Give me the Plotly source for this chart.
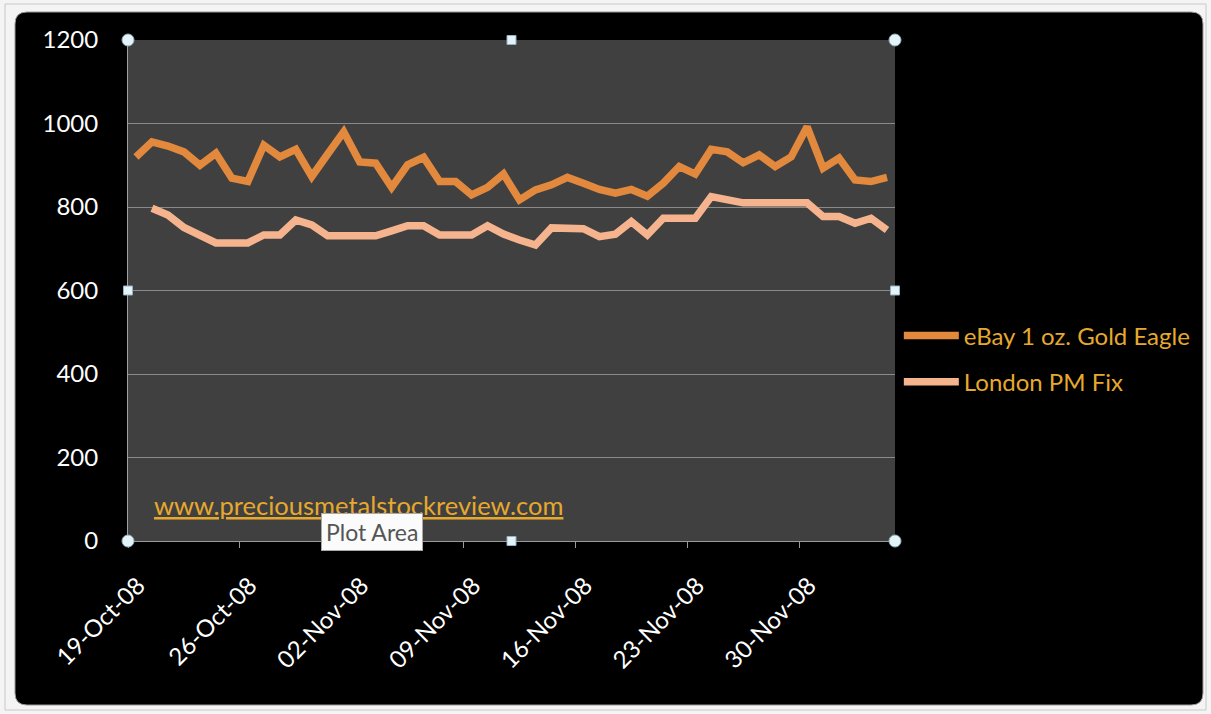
import plotly.graph_objects as go
import pandas as pd

# ---- data ----
ebay_dates = pd.date_range("2008-10-19", "2008-12-05", freq="D")
ebay_values = [920, 956, 946, 932, 900, 929, 869, 861, 948, 920, 938, 873, 927, 980, 908, 905,
               847, 901, 919, 861, 861, 829, 847, 879, 817, 841, 853, 871, 857, 842, 833, 842,
               826, 857, 897, 879, 938, 932, 906, 925, 897, 920, 992, 893, 917, 865, 861, 871]
london_dates = pd.date_range("2008-10-20", "2008-12-05", freq="D")
london_values = [797, 781, 751, 731, 714, 714, 714, 733, 733, 769, 757, 731, 731, 731, 731,
                 743, 755, 755, 733, 733, 733, 755, 735, 721, 709, 750, 750, 748, 729, 735,
                 765, 733, 773, 773, 773, 825, 817, 810, 810, 810, 810, 810, 777, 777, 761,
                 773, 745]
series_names = ["eBay 1 oz. Gold Eagle", "London PM Fix"]
tick_dates = pd.date_range("2008-10-19", "2008-11-30", freq="7D")
y_ticks = [0, 200, 400, 600, 800, 1000, 1200]

W, H = 1211, 714
L, R, T, B = 128, 895, 40, 541
def px(x):
    return (x - L) / (R - L)
def py(y):
    return (B - y) / (B - T)

FONT = "Lato"
half_day = pd.Timedelta(hours=12)

fig = go.Figure()
fig.add_trace(go.Scatter(x=ebay_dates + half_day, y=ebay_values, mode="lines",
                         name=series_names[0], legendgroup="a",
                         line=dict(color="#e2893d", width=7.5)))
fig.add_trace(go.Scatter(x=london_dates + half_day, y=london_values, mode="lines",
                         name=series_names[1], legendgroup="b",
                         line=dict(color="#f5b48e", width=7.5)))

shapes = []
# black chart background with rounded corners
x0, x1, y0, y1, r = 15, 1203, 12, 705, 12
path = (f"M {px(x0+r)} {py(y0)} L {px(x1-r)} {py(y0)} Q {px(x1)} {py(y0)} {px(x1)} {py(y0+r)} "
        f"L {px(x1)} {py(y1-r)} Q {px(x1)} {py(y1)} {px(x1-r)} {py(y1)} "
        f"L {px(x0+r)} {py(y1)} Q {px(x0)} {py(y1)} {px(x0)} {py(y1-r)} "
        f"L {px(x0)} {py(y0+r)} Q {px(x0)} {py(y0)} {px(x0+r)} {py(y0)} Z")
shapes.append(dict(type="path", xref="paper", yref="paper", path=path,
                   fillcolor="black", line=dict(color="#9a9a9a", width=1), layer="below"))
# plot area fill
shapes.append(dict(type="rect", xref="paper", yref="paper", x0=0, x1=1, y0=0, y1=1,
                   fillcolor="#404040", line=dict(width=0), layer="below"))
# outer frame
shapes.append(dict(type="rect", xref="paper", yref="paper", x0=px(5), x1=px(1206), y0=py(4), y1=py(710),
                   line=dict(color="#c8c8c8", width=1), fillcolor="rgba(0,0,0,0)", layer="below"))

# selection handles
for hx, hy in [(L, T), (R, T), (L, B), (R, B)]:
    shapes.append(dict(type="circle", xref="paper", yref="paper",
                       x0=px(hx - 6), x1=px(hx + 6), y0=py(hy - 6), y1=py(hy + 6),
                       fillcolor="#e4f3f8", line=dict(color="#8fb3c4", width=1), layer="above"))
for hx, hy in [((L + R) / 2, T), ((L + R) / 2, B), (L, (T + B) / 2), (R, (T + B) / 2)]:
    shapes.append(dict(type="rect", xref="paper", yref="paper",
                       x0=px(hx - 4.5), x1=px(hx + 4.5), y0=py(hy - 4.5), y1=py(hy + 4.5),
                       fillcolor="#e4f3f8", line=dict(color="#8fb3c4", width=1), layer="above"))

annotations = [
    dict(text="<u>www.preciousmetalstockreview.com</u>", xref="paper", yref="paper",
         x=px(152), y=py(505), xanchor="left", yanchor="middle", showarrow=False,
         font=dict(family=FONT, size=25.5, color="#e6a92e")),
    dict(text="Plot Area", xref="paper", yref="paper", x=px(372), y=py(532),
         xanchor="center", yanchor="middle", showarrow=False,
         font=dict(family=FONT, size=23, color="#555555"),
         bgcolor="#fbfbfb", bordercolor="#a8a8a8", borderwidth=1, borderpad=4),
]

fig.update_layout(
    width=W, height=H,
    margin=dict(l=L, r=W - R, t=T, b=H - B, pad=0, autoexpand=False),
    paper_bgcolor="#f4f4f4",
    plot_bgcolor="#404040",
    font=dict(family=FONT, color="white"),
    showlegend=True,
    legend=dict(x=1.005, y=py(359), xanchor="left", yanchor="middle",
                bgcolor="rgba(0,0,0,0)", font=dict(family=FONT, size=24, color="#e6a92e"),
                tracegroupgap=12, itemwidth=55),
    shapes=shapes,
    annotations=annotations,
    xaxis=dict(
        type="date",
        range=["2008-10-19", "2008-12-06"],
        tickvals=list(tick_dates), tickformat="%d-%b-%y",
        tickangle=-45, ticklabelshift=10, ticklabelstandoff=14,
        tickfont=dict(family=FONT, size=24, color="white"),
        showgrid=False, showline=True, linecolor="#9a9a9a", linewidth=1,
        ticks="outside", ticklen=6, tickcolor="#9a9a9a",
        zeroline=False, fixedrange=True,
    ),
    yaxis=dict(
        range=[0, 1200], tickvals=y_ticks,
        tickfont=dict(family=FONT, size=24, color="white"),
        showgrid=True, gridcolor="#8a8a8a", gridwidth=1,
        showline=True, linecolor="#a0a0a0", linewidth=1,
        ticks="", ticklabelstandoff=24, zeroline=False,
    ),
)

fig.write_html("out.html")
